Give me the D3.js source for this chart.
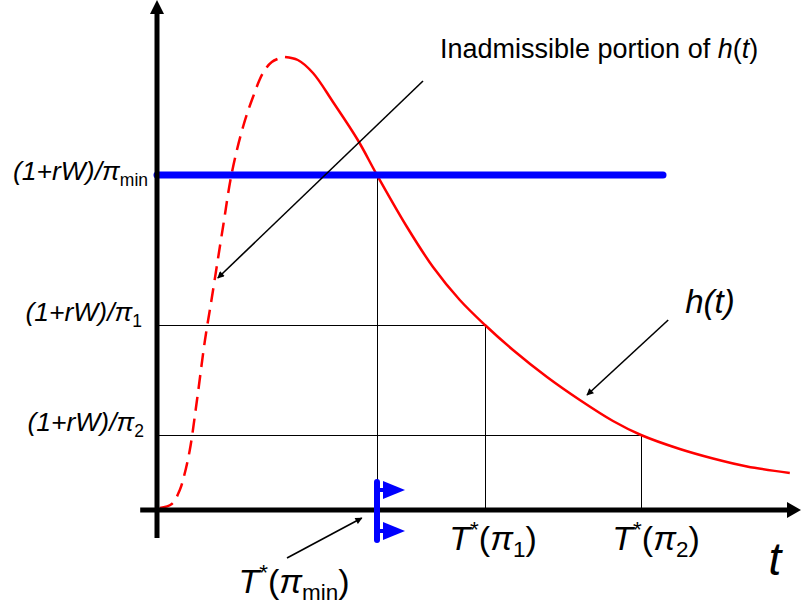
<!DOCTYPE html>
<html>
<head>
<meta charset="utf-8">
<script src="https://cdn.jsdelivr.net/npm/d3@7"></script>
<style>
  body { margin: 0; background: #fff; }
  text { font-family: Arial, "Liberation Sans", sans-serif; fill: #000; }
</style>
</head>
<body>
<div id="container"></div>
<script>
// h(t) curve (t, h in arbitrary units)
const tDashed = [0.07, 0.37, 0.57, 0.67, 0.82, 1.0, 1.2, 1.37, 1.65, 1.87, 2.15, 2.4, 2.65, 2.87, 3.15];
const hDashed = [0.04, 0.12, 0.40, 0.66, 1.20, 2.2, 3.4, 4.24, 5.66, 6.74, 7.66, 8.26, 8.74, 8.96, 9.06];
const tSolid = [3.2, 3.52, 3.9, 4.4, 5.02, 5.5, 6.25, 6.9, 7.57, 8.2, 8.9, 9.75, 10.57, 11.4, 12.1, 13.07, 13.9, 14.75, 15.82];
const hSolid = [9.06, 9.0, 8.74, 8.16, 7.4, 6.7, 5.66, 4.86, 4.2, 3.7, 3.2, 2.66, 2.2, 1.78, 1.5, 1.22, 1.03, 0.87, 0.74];

// levels (1+rW)/pi and the matching T*(pi)
const levelSubs = ['min', '1', '2'];
const levelH = [6.7, 3.7, 1.5];
const levelT = [5.5, 8.2, 12.1];
const minLineEnd = 12.65;

const WIDTH = 802;
const HEIGHT = 611;

const x = d3.scaleLinear().domain([0, 16]).range([157, 797]);
const y = d3.scaleLinear().domain([0, 10]).range([510, 10]);

const svg = d3.select('#container')
  .append('svg')
  .attr('width', WIDTH)
  .attr('height', HEIGHT);

svg.append('rect').attr('width', WIDTH).attr('height', HEIGHT).attr('fill', '#fff');

svg.append('defs').append('marker')
  .attr('id', 'arr')
  .attr('viewBox', '0 0 10 10')
  .attr('refX', 9).attr('refY', 5)
  .attr('markerWidth', 8).attr('markerHeight', 7)
  .attr('markerUnits', 'userSpaceOnUse')
  .attr('orient', 'auto')
  .append('path').attr('d', 'M0,0 L10,5 L0,10 z').attr('fill', '#000');

function richText(parts, px, py, size, anchor) {
  const txt = svg.append('text')
    .attr('x', px).attr('y', py)
    .attr('font-size', size)
    .attr('text-anchor', anchor || 'start');
  let shift = 0;
  parts.forEach(p => {
    const off = p.sub ? 0.22 * size : p.sup ? -0.38 * size : 0;
    txt.append('tspan')
      .text(p.t)
      .attr('dy', off - shift)
      .attr('font-size', (p.sub || p.sup) ? size * 0.66 : size)
      .attr('font-style', p.it ? 'italic' : 'normal');
    shift = off;
  });
  return txt;
}

// guide lines
levelH.forEach((h, i) => {
  if (i === 0) return;
  svg.append('line')
    .attr('x1', x(0)).attr('x2', x(levelT[i]))
    .attr('y1', y(h)).attr('y2', y(h))
    .attr('stroke', '#000').attr('stroke-width', 1)
    .attr('shape-rendering', 'crispEdges');
});
levelT.forEach((t, i) => {
  svg.append('line')
    .attr('x1', x(t)).attr('x2', x(t))
    .attr('y1', y(levelH[i])).attr('y2', y(0))
    .attr('stroke', '#000').attr('stroke-width', 1)
    .attr('shape-rendering', 'crispEdges');
});

// h(t)
const line = d3.line()
  .x(d => x(d[0]))
  .y(d => y(d[1]))
  .curve(d3.curveCatmullRom.alpha(0.5));

svg.append('path')
  .datum(d3.zip(tDashed, hDashed))
  .attr('d', line)
  .attr('fill', 'none')
  .attr('stroke', '#ff0000')
  .attr('stroke-width', 2.5)
  .attr('stroke-dasharray', '14,8');

svg.append('path')
  .datum(d3.zip(tSolid, hSolid))
  .attr('d', line)
  .attr('fill', 'none')
  .attr('stroke', '#ff0000')
  .attr('stroke-width', 2.5);

// minimum level line
svg.append('line')
  .attr('x1', x(0)).attr('x2', x(minLineEnd))
  .attr('y1', y(levelH[0])).attr('y2', y(levelH[0]))
  .attr('stroke', '#0000ff').attr('stroke-width', 7)
  .attr('stroke-linecap', 'round');

// axes
svg.append('line')
  .attr('x1', x(0)).attr('x2', x(0))
  .attr('y1', y(-0.56)).attr('y2', 12)
  .attr('stroke', '#000').attr('stroke-width', 5);
svg.append('path')
  .attr('d', `M${x(0)},0 L${x(0) - 7},14 L${x(0) + 7},14 Z`)
  .attr('fill', '#000');
svg.append('line')
  .attr('x1', x(-0.42)).attr('x2', 788)
  .attr('y1', y(0)).attr('y2', y(0))
  .attr('stroke', '#000').attr('stroke-width', 5);
svg.append('path')
  .attr('d', `M801,${y(0)} L787,${y(0) - 8} L787,${y(0) + 8} Z`)
  .attr('fill', '#000');

// blue flag marker at T*(pi_min)
const fx = x(levelT[0]);
svg.append('line')
  .attr('x1', fx).attr('x2', fx)
  .attr('y1', y(0.56)).attr('y2', y(-0.6))
  .attr('stroke', '#0000ff').attr('stroke-width', 6)
  .attr('stroke-linecap', 'round');
[0.4, -0.42].forEach(h => {
  const fy = y(h);
  svg.append('line')
    .attr('x1', fx).attr('x2', fx + 8)
    .attr('y1', fy).attr('y2', fy)
    .attr('stroke', '#0000ff').attr('stroke-width', 4);
  svg.append('path')
    .attr('d', `M${fx + 6},${fy - 9} L${fx + 28},${fy} L${fx + 6},${fy + 9} Z`)
    .attr('fill', '#0000ff');
});

// annotation arrows
const arrows = [
  [[6.65, 8.58], [1.52, 4.64]],
  [[12.78, 3.8], [10.75, 2.3]],
  [[3.25, -0.96], [5.12, -0.16]]
];
arrows.forEach(a => {
  svg.append('line')
    .attr('x1', x(a[0][0])).attr('y1', y(a[0][1]))
    .attr('x2', x(a[1][0])).attr('y2', y(a[1][1]))
    .attr('stroke', '#000').attr('stroke-width', 1.6)
    .attr('marker-end', 'url(#arr)');
});

// y labels
const labelEnds = [148, 142, 144];
levelSubs.forEach((s, i) => {
  const dy = i === 0 ? 5 : -4;
  richText([{ t: '(1+rW)/π', it: true }, { t: s, sub: true }], labelEnds[i], y(levelH[i]) + dy, 26.5, 'end');
});

// x labels
richText([{ t: 'T', it: true }, { t: '*', sup: true }, { t: '(' }, { t: 'π', it: true }, { t: 'min', sub: true }, { t: ')' }],
  x(levelT[0]) - 83, 593, 34, 'middle');
richText([{ t: 'T', it: true }, { t: '*', sup: true }, { t: '(' }, { t: 'π', it: true }, { t: '1', sub: true }, { t: ')' }],
  x(levelT[1]) + 8, 550, 34, 'middle');
richText([{ t: 'T', it: true }, { t: '*', sup: true }, { t: '(' }, { t: 'π', it: true }, { t: '2', sub: true }, { t: ')' }],
  x(levelT[2]) + 15, 550, 34, 'middle');

richText([{ t: 't', it: true }], 775, 575, 46, 'middle');
richText([{ t: 'h(t)', it: true }], 710, 313, 33, 'middle');
richText([{ t: 'Inadmissible portion of ' }, { t: 'h', it: true }, { t: '(' }, { t: 't', it: true }, { t: ')' }],
  440, 58, 27, 'start');
</script>
</body>
</html>
